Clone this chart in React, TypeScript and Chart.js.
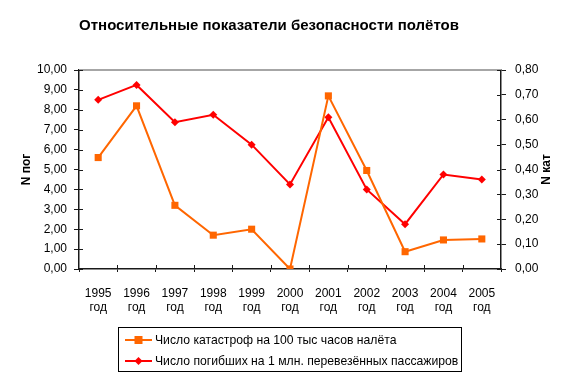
import React, { useEffect, useRef } from "react";
import { Chart, registerables } from "chart.js";

Chart.register(...registerables);

const years = ["1995", "1996", "1997", "1998", "1999", "2000", "2001", "2002", "2003", "2004", "2005"];
const yearSuffix = "год";
const catastrophes = [5.6, 8.2, 3.2, 1.7, 2.0, 0.0, 8.7, 4.95, 0.87, 1.46, 1.51];
const fatalities = [0.68, 0.74, 0.59, 0.62, 0.5, 0.34, 0.61, 0.32, 0.18, 0.38, 0.36];
const seriesNames = [
  "Число катастроф на 100 тыс часов налёта",
  "Число погибших на 1 млн. перевезённых пассажиров",
];
const titleText = "Относительные показатели безопасности полётов";
const leftAxisTitle = "N пог";
const rightAxisTitle = "N кат";

const FONT = '"Liberation Sans", Arial, sans-serif';
const ORANGE = "#FF6600";
const RED = "#FF0000";

const fmt = (v: number) => Number(v).toFixed(2).replace(".", ",");

const decorPlugin = {
  id: "decor",
  afterDraw(chart: any) {
    const ctx = chart.ctx as CanvasRenderingContext2D;
    const area = chart.chartArea;
    ctx.save();
    // top border line
    ctx.strokeStyle = "#a6a6a6";
    ctx.lineWidth = 2;
    ctx.beginPath();
    ctx.moveTo(area.left, area.top);
    ctx.lineTo(area.right, area.top);
    ctx.stroke();

    // inner tick marks
    ctx.strokeStyle = "#1a1a1a";
    ctx.lineWidth = 1;
    const yL = chart.scales.y;
    const yR = chart.scales.y1;
    yL.ticks.forEach((t: any, i: number) => {
      const py = Math.round(yL.getPixelForTick(i)) + 0.5;
      ctx.beginPath();
      ctx.moveTo(area.left, py);
      ctx.lineTo(area.left + 4, py);
      ctx.stroke();
    });
    yR.ticks.forEach((t: any, i: number) => {
      const py = Math.round(yR.getPixelForTick(i)) + 0.5;
      ctx.beginPath();
      ctx.moveTo(area.right - 4, py);
      ctx.lineTo(area.right, py);
      ctx.stroke();
    });
    const n = years.length;
    const step = (area.right - area.left) / n;
    for (let i = 1; i < n; i++) {
      const px = Math.round(area.left + step * i) + 0.5;
      ctx.beginPath();
      ctx.moveTo(px, area.bottom - 4);
      ctx.lineTo(px, area.bottom);
      ctx.stroke();
    }

    // title
    ctx.fillStyle = "#000";
    ctx.font = `bold 15px ${FONT}`;
    ctx.textAlign = "center";
    ctx.textBaseline = "alphabetic";
    ctx.fillText(titleText, 269, 30);

    // axis titles
    const cy = (area.top + area.bottom) / 2;
    ctx.font = `bold 12px ${FONT}`;
    ctx.textBaseline = "middle";
    ctx.save();
    ctx.translate(27, cy);
    ctx.rotate(-Math.PI / 2);
    ctx.fillText(leftAxisTitle, 0, 0);
    ctx.restore();
    ctx.save();
    ctx.translate(547, cy);
    ctx.rotate(-Math.PI / 2);
    ctx.fillText(rightAxisTitle, 0, 0);
    ctx.restore();

    // legend
    ctx.strokeStyle = "#000";
    ctx.lineWidth = 1;
    ctx.strokeRect(118.5, 327.5, 343, 44);
    const rows = [
      { y: 340, color: ORANGE, marker: "square", label: seriesNames[0] },
      { y: 361, color: RED, marker: "diamond", label: seriesNames[1] },
    ];
    rows.forEach((r) => {
      ctx.strokeStyle = r.color;
      ctx.lineWidth = 2;
      ctx.beginPath();
      ctx.moveTo(125, r.y);
      ctx.lineTo(152, r.y);
      ctx.stroke();
      ctx.fillStyle = r.color;
      const mx = 138.5;
      if (r.marker === "square") {
        ctx.fillRect(mx - 4, r.y - 4, 8, 8);
      } else {
        ctx.beginPath();
        ctx.moveTo(mx, r.y - 4);
        ctx.lineTo(mx + 4, r.y);
        ctx.lineTo(mx, r.y + 4);
        ctx.lineTo(mx - 4, r.y);
        ctx.closePath();
        ctx.fill();
      }
      ctx.fillStyle = "#000";
      ctx.font = `12.2px ${FONT}`;
      ctx.textAlign = "left";
      ctx.textBaseline = "middle";
      ctx.fillText(r.label, 155, r.y + 1);
    });
    ctx.restore();
  },
};

export default function App() {
  const ref = useRef<HTMLCanvasElement | null>(null);
  useEffect(() => {
    document.body.style.margin = "0";
    if (!ref.current) return;
    const chart = new Chart(ref.current, {
      type: "line",
      data: {
        labels: years.map((y) => [y, yearSuffix]),
        datasets: [
          {
            label: seriesNames[0],
            data: catastrophes,
            yAxisID: "y",
            borderColor: ORANGE,
            backgroundColor: ORANGE,
            borderWidth: 2,
            pointStyle: "rect",
            pointRadius: 5,
            pointBorderWidth: 0,
            tension: 0,
          },
          {
            label: seriesNames[1],
            data: fatalities,
            yAxisID: "y1",
            borderColor: RED,
            backgroundColor: RED,
            borderWidth: 2,
            pointStyle: "rectRot",
            pointRadius: 4,
            pointBorderWidth: 0,
            tension: 0,
          },
        ],
      },
      options: {
        responsive: false,
        animation: false,
        layout: { padding: { top: 70, left: 0, right: 0, bottom: 0 } },
        plugins: { legend: { display: false }, title: { display: false }, tooltip: { enabled: false } },
        scales: {
          x: {
            type: "category",
            offset: true,
            grid: { display: true, drawOnChartArea: false, drawTicks: true, tickLength: 3, color: "#1a1a1a", offset: true },
            border: { display: true, color: "#1a1a1a", width: 1.5 },
            ticks: {
              color: "#000",
              font: { family: FONT, size: 12, lineHeight: 1.2 },
              maxRotation: 0,
              autoSkip: false,
              padding: 14,
            },
            afterFit: (s: any) => {
              s.height = 111;
            },
          },
          y: {
            position: "left",
            min: 0,
            max: 10,
            grid: { display: true, drawOnChartArea: false, drawTicks: true, tickLength: 5, color: "#1a1a1a" },
            border: { display: true, color: "#1a1a1a", width: 1.5 },
            ticks: {
              stepSize: 1,
              color: "#000",
              font: { family: FONT, size: 12 },
              padding: 7,
              callback: (v: any) => fmt(v),
            },
            afterFit: (s: any) => {
              s.width = 79;
            },
          },
          y1: {
            position: "right",
            min: 0,
            max: 0.8,
            grid: { display: true, drawOnChartArea: false, drawTicks: true, tickLength: 5, color: "#1a1a1a" },
            border: { display: true, color: "#1a1a1a", width: 1.5 },
            ticks: {
              stepSize: 0.1,
              color: "#000",
              font: { family: FONT, size: 12 },
              padding: 9,
              callback: (v: any) => fmt(v),
            },
            afterFit: (s: any) => {
              s.width = 72;
            },
          },
        },
      },
      plugins: [decorPlugin],
    });
    return () => chart.destroy();
  }, []);
  return (
    <div style={{ width: 573, height: 380, background: "#fff" }}>
      <canvas ref={ref} width={573} height={380} />
    </div>
  );
}
